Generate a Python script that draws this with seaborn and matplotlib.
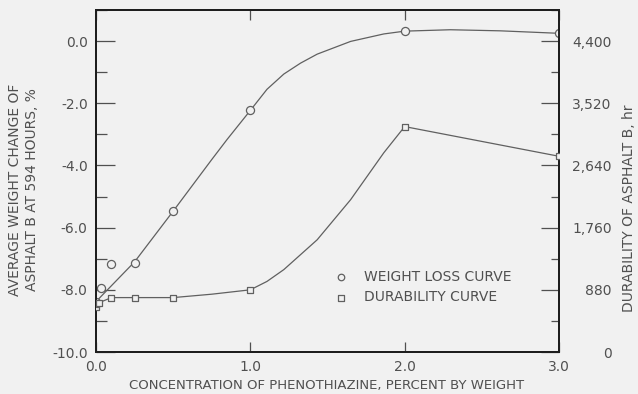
import matplotlib
matplotlib.use("Agg")
import matplotlib.pyplot as plt
from matplotlib.ticker import FixedLocator, MultipleLocator
import seaborn as sns

# Weight change of asphalt B after 594 hours (%), measured points
wl_conc = [0.0, 0.03, 0.1, 0.25, 0.5, 1.0, 2.0, 3.0]
wl_change = [-8.4, -7.95, -7.17, -7.14, -5.47, -2.23, 0.32, 0.25]

# Faired weight-loss curve
wl_curve_conc = [0.0, 0.25, 0.5, 0.75, 0.85, 1.0, 1.108, 1.217, 1.325, 1.433,
                 1.65, 1.865, 2.0, 2.296, 2.62, 3.0]
wl_curve_change = [-8.38, -7.1, -5.47, -3.81, -3.16, -2.23, -1.55, -1.06, -0.71, -0.42,
                   -0.01, 0.23, 0.32, 0.365, 0.33, 0.25]

# Durability of asphalt B (hours), measured points
dur_conc = [0.0, 0.0, 0.02, 0.1, 0.25, 0.5, 1.0, 2.0, 3.0]
dur_hours = [640, 680, 700, 770, 770, 770, 880, 3190, 2770]

# Faired durability curve
dur_curve_conc = [0.0, 0.1, 0.25, 0.5, 0.75, 1.0, 1.108, 1.217, 1.433, 1.65, 1.865, 2.0, 3.0]
dur_curve_hours = [680, 770, 770, 770, 818, 880, 999, 1166, 1588, 2156, 2820, 3190, 2770]

x_ticks = [0, 1, 2, 3]
x_tick_labels = ["0.0", "1.0", "2.0", "3.0"]
y_ticks = [-10, -8, -6, -4, -2, 0]
y_tick_labels = ["-10.0", "-8.0", "-6.0", "-4.0", "-2.0", "0.0"]
hr_ticks = [0, 880, 1760, 2640, 3520, 4400]
hr_tick_labels = ["0", "880", "1,760", "2,640", "3,520", "4,400"]

BG = "#f1f1f1"
INK = "#505050"
LINE = "#606060"
SPINE = "#1e1e1e"

sns.set_style("ticks", {"axes.facecolor": BG, "figure.facecolor": BG})
plt.rcParams["font.family"] = ["DejaVu Sans"]
plt.rcParams["font.size"] = 10
plt.rcParams["text.color"] = INK
plt.rcParams["xtick.color"] = INK
plt.rcParams["ytick.color"] = INK

fig = plt.figure(figsize=(6.38, 3.94), dpi=100)
fig.patch.set_facecolor(BG)
ax = fig.add_axes([96 / 638, 1 - 352 / 394, 463 / 638, 342 / 394])
ax.set_facecolor(BG)
ax2 = ax.twinx()

# Weight-loss curve and points
sns.lineplot(x=wl_curve_conc, y=wl_curve_change, ax=ax, color=LINE, lw=0.9,
             sort=False, estimator=None, zorder=2)
sns.scatterplot(x=wl_conc, y=wl_change, ax=ax, marker="o", s=34, color=BG,
                edgecolor=LINE, linewidth=0.9, zorder=3, label="WEIGHT LOSS CURVE")

# Durability curve and points on the hour scale
sns.lineplot(x=dur_curve_conc, y=dur_curve_hours, ax=ax2, color=LINE, lw=0.9,
             sort=False, estimator=None, zorder=2)
sns.scatterplot(x=dur_conc, y=dur_hours, ax=ax2, marker="s", s=24, color=BG,
                edgecolor=LINE, linewidth=0.9, zorder=3, label="DURABILITY CURVE")

for a in (ax, ax2):
    lg = a.get_legend()
    if lg is not None:
        lg.remove()

ax.set_xlim(0, 3)
ax.set_ylim(-10, 1.0)
ax2.set_ylim(0, 4840)

# Axis ticks
ax.xaxis.set_major_locator(FixedLocator(x_ticks))
ax.set_xticklabels(x_tick_labels)
ax.tick_params(axis="x", which="major", direction="in", length=7, width=0.9,
               top=True, bottom=True, pad=6, labelsize=10, colors=INK)
ax.yaxis.set_major_locator(FixedLocator(y_ticks))
ax.set_yticklabels(y_tick_labels)
ax.yaxis.set_minor_locator(MultipleLocator(1))
ax.tick_params(axis="y", which="major", direction="in", length=14, width=0.9,
               left=True, right=False, pad=6, labelsize=10, colors=INK)
ax.tick_params(axis="y", which="minor", direction="in", length=8, width=0.9,
               left=True, right=False, colors=INK)

ax2.yaxis.set_major_locator(FixedLocator(hr_ticks))
ax2.set_yticklabels(hr_tick_labels)
ax2.yaxis.set_minor_locator(MultipleLocator(440))
ax2.tick_params(axis="y", which="major", direction="in", length=13, width=0.9,
                pad=38, labelsize=10, colors=INK)
ax2.tick_params(axis="y", which="minor", direction="in", length=6, width=0.9, colors=INK)
for lbl in ax2.get_yticklabels():
    lbl.set_horizontalalignment("right")

for a in (ax, ax2):
    for sp in a.spines.values():
        sp.set_visible(True)
        sp.set_color(SPINE)
        sp.set_linewidth(1.4)

# Axis titles
ax.set_xlabel("CONCENTRATION OF PHENOTHIAZINE, PERCENT BY WEIGHT", fontsize=9.5, color=INK)
ax.xaxis.set_label_coords(0.499, -0.099)
ax.xaxis.label.set_va("center")

ax.set_ylabel("AVERAGE WEIGHT CHANGE OF\nASPHALT B AT 594 HOURS, %", fontsize=10,
              color=INK, linespacing=1.25)
ax.yaxis.set_label_coords(-0.1566, 0.474)
ax.yaxis.label.set_va("center")

ax2.set_ylabel("DURABILITY OF ASPHALT B, hr", fontsize=10, color=INK, rotation=90)
ax2.yaxis.set_label_coords((629 - 96) / 463, 1 - (208 - 10) / 342)
ax2.yaxis.label.set_va("center")

# Legend
h1, l1 = ax.get_legend_handles_labels()
h2, l2 = ax2.get_legend_handles_labels()
ax2.legend(h1 + h2, l1 + l2, loc="upper left",
           bbox_to_anchor=(334 / 638, 1 - 270 / 394), bbox_transform=fig.transFigure,
           frameon=False, borderpad=0, borderaxespad=0, handlelength=1.0,
           handletextpad=1.15, labelspacing=0.45, markerscale=0.8,
           fontsize=10, labelcolor=INK)

fig.savefig("out.png", dpi=100, facecolor=BG)
